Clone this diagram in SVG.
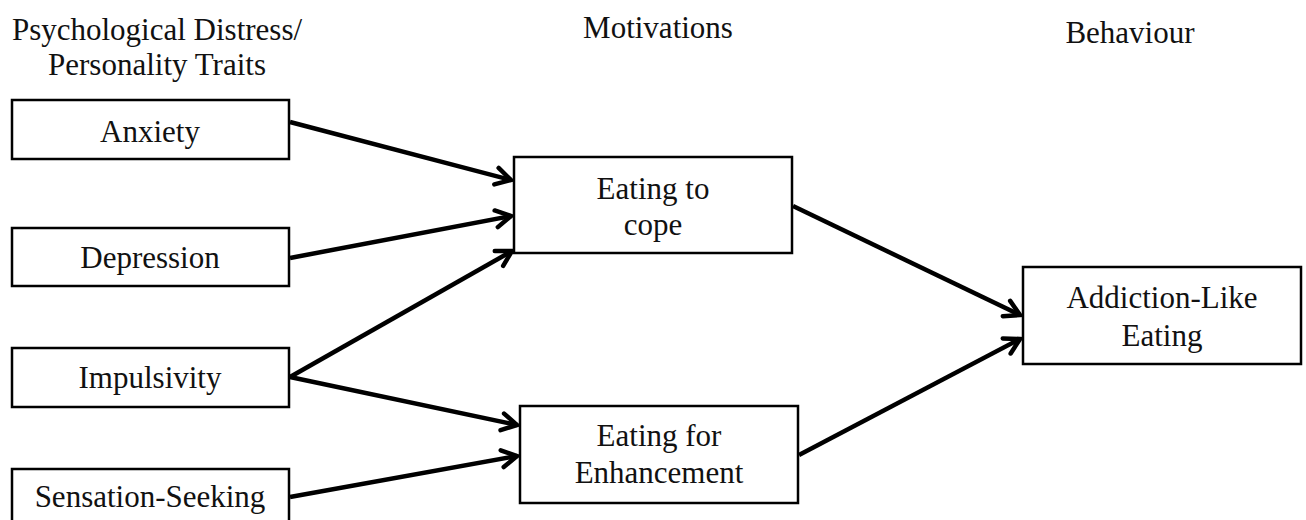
<svg xmlns="http://www.w3.org/2000/svg" width="1306" height="520" viewBox="0 0 1306 520">
<style>
  text { font-family: 'Liberation Serif', 'DejaVu Serif', serif; font-size: 31px; fill: #111; text-anchor: middle; }
  .box { fill: #fff; stroke: #000; stroke-width: 2.5; }
  .edge { stroke: #000; stroke-width: 4.5; fill: none; marker-end: url(#arr); }
</style>
<defs>
  <marker id="arr" markerUnits="userSpaceOnUse" viewBox="-20 -12 24 24" refX="0" refY="0" markerWidth="24" markerHeight="24" orient="auto">
    <path d="M-15,-8.5 L0,0 L-15,8.5" fill="none" stroke="#000" stroke-width="4.5" stroke-linecap="round" stroke-linejoin="miter"/>
  </marker>
</defs>
<rect width="1306" height="520" fill="#fff"/>
<g id="headers" font-family="Liberation Serif">
  <text x="157" y="40">Psychological Distress/</text>
  <text x="157" y="75">Personality Traits</text>
  <text x="658" y="38">Motivations</text>
  <text x="1130" y="43">Behaviour</text>
</g>
<g id="connectors">
  <line class="edge" x1="290" y1="122" x2="511" y2="180"/>
  <line class="edge" x1="290" y1="258" x2="511" y2="216"/>
  <line class="edge" x1="290" y1="377" x2="512" y2="251"/>
  <line class="edge" x1="290" y1="377" x2="517" y2="425"/>
  <line class="edge" x1="290" y1="497" x2="517" y2="456"/>
  <line class="edge" x1="793" y1="206" x2="1020" y2="315"/>
  <line class="edge" x1="799" y1="455" x2="1020" y2="339"/>
</g>
<g id="anxiety">
  <rect class="box" x="12" y="100" width="277" height="59"/>
  <text x="150" y="142">Anxiety</text>
</g>
<g id="depression">
  <rect class="box" x="12" y="228" width="277" height="58"/>
  <text x="150" y="268">Depression</text>
</g>
<g id="impulsivity">
  <rect class="box" x="12" y="348" width="277" height="59"/>
  <text x="150" y="388">Impulsivity</text>
</g>
<g id="sensation-seeking">
  <rect class="box" x="12" y="469" width="277" height="70"/>
  <text x="150" y="507">Sensation-Seeking</text>
</g>
<g id="eating-to-cope">
  <rect class="box" x="514" y="157" width="278" height="96"/>
  <text x="653" y="199">Eating to</text>
  <text x="653" y="235">cope</text>
</g>
<g id="eating-for-enhancement">
  <rect class="box" x="520" y="406" width="278" height="97"/>
  <text x="659" y="446">Eating for</text>
  <text x="659" y="483">Enhancement</text>
</g>
<g id="addiction-like-eating">
  <rect class="box" x="1023" y="267" width="278" height="97"/>
  <text x="1162" y="308">Addiction-Like</text>
  <text x="1162" y="346">Eating</text>
</g>
</svg>
